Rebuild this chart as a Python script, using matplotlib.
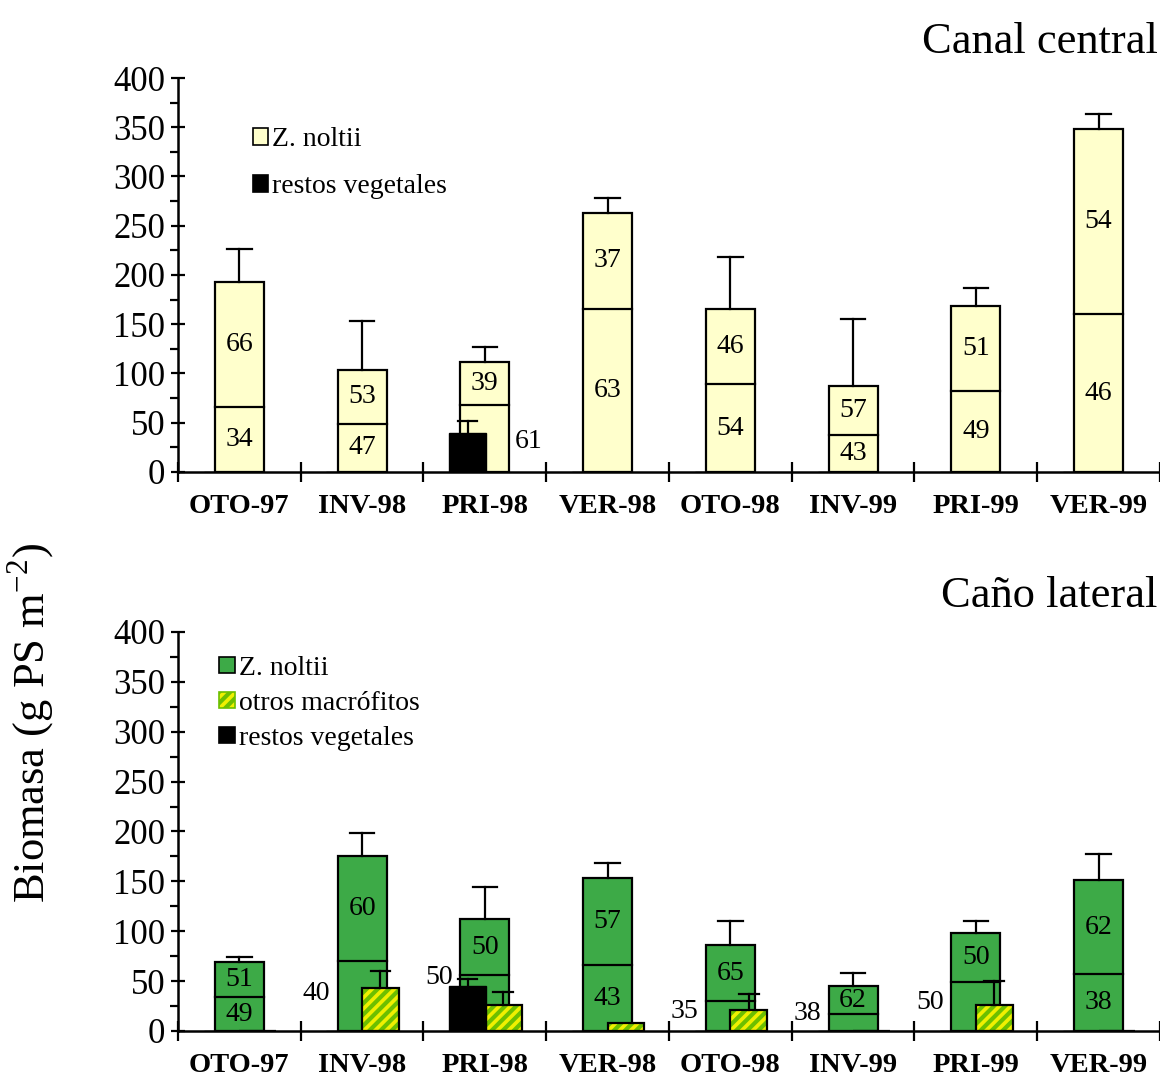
import matplotlib.pyplot as plt
import numpy as np

plt.rcParams['font.family'] = ['Liberation Serif', 'DejaVu Serif']
plt.rcParams['mathtext.fontset'] = 'custom'
plt.rcParams['mathtext.rm'] = 'Liberation Serif'
plt.rcParams['hatch.linewidth'] = 3.0

SEASONS = ["OTO-97", "INV-98", "PRI-98", "VER-98", "OTO-98", "INV-99", "PRI-99", "VER-99"]

# Canal central
CC_TOTAL = [193, 104, 112, 263, 165, 87, 168, 348]
CC_ERR = [33, 49, 15, 15, 53, 68, 19, 15]
CC_PCT_LOW = [34, 47, 61, 63, 54, 43, 49, 46]
CC_RESTOS = [0, 0, 40, 0, 0, 0, 0, 0]
CC_RESTOS_ERR = [0, 0, 12, 0, 0, 0, 0, 0]

# Caño lateral
CL_TOTAL = [69, 175, 112, 153, 86, 45, 98, 151]
CL_ERR = [5, 23, 32, 15, 24, 13, 12, 26]
CL_PCT_LOW = [49, 40, 50, 43, 35, 38, 50, 38]
CL_OTROS = [0, 43, 26, 8, 21, 0, 26, 0]
CL_OTROS_ERR = [0, 17, 13, 0, 16, 0, 24, 0]
CL_RESTOS = [0, 0, 45, 0, 0, 0, 0, 0]
CL_RESTOS_ERR = [0, 0, 7, 0, 0, 0, 0, 0]

YELLOW = "#FFFFCC"
GREEN = "#3DAA47"
HATCH_BG = "#F0F000"
HATCH_FG = "#6CBF00"

W = 0.40
W_SMALL = 0.30
NUM_FS = 20


def err_up(ax, x, top, err, cap=0.1):
    if err <= 0:
        return
    ax.plot([x, x], [top, top + err], color="black", lw=1.6, zorder=4)
    ax.plot([x - cap, x + cap], [top + err, top + err], color="black", lw=1.6, zorder=4)


def setup_axes(ax, title):
    n = len(SEASONS)
    ax.set_xlim(0, n)
    ax.set_ylim(0, 400)
    for s in ["top", "right"]:
        ax.spines[s].set_visible(False)
    ax.spines["left"].set_linewidth(1.8)
    ax.spines["bottom"].set_linewidth(1.8)
    ax.set_yticks(np.arange(0, 401, 50))
    ax.set_yticks(np.arange(0, 401, 25), minor=True)
    ax.tick_params(axis="y", which="major", direction="inout", length=10, width=1.6,
                   labelsize=25, pad=4)
    ax.tick_params(axis="y", which="minor", direction="out", length=6, width=1.6)
    ax.set_xticks(np.arange(0, n + 1))
    ax.set_xticklabels([])
    ax.set_xticks(np.arange(n) + 0.5, minor=True)
    ax.set_xticklabels(SEASONS, minor=True, fontweight="bold", fontsize=20.5)
    ax.tick_params(axis="x", which="major", direction="inout", length=14, width=1.6)
    ax.tick_params(axis="x", which="minor", length=0, pad=16)
    ax.text(0.9975, 1.04, title, transform=ax.transAxes, ha="right", va="bottom",
            fontsize=32)


fig = plt.figure(figsize=(11.6, 10.79), dpi=100)
ax1 = fig.add_axes([0.1534, 0.5626, 0.8466, 0.3651])
ax2 = fig.add_axes([0.1534, 0.0445, 0.8466, 0.3698])

# ---- top panel
x = np.arange(len(SEASONS)) + 0.5
ax1.bar(x, CC_TOTAL, W, color=YELLOW, edgecolor="black", lw=1.6, zorder=2)
for i in range(len(SEASONS)):
    low = CC_TOTAL[i] * CC_PCT_LOW[i] / 100
    ax1.plot([x[i] - W / 2, x[i] + W / 2], [low, low], color="black", lw=1.6, zorder=3)
    err_up(ax1, x[i], CC_TOTAL[i], CC_ERR[i])
    ax1.text(x[i], (low + CC_TOTAL[i]) / 2, str(100 - CC_PCT_LOW[i]), ha="center",
             va="center", fontsize=NUM_FS, zorder=5)
    if CC_RESTOS[i] > 0:
        ax1.text(x[i] + W / 2 + 0.04, 31, str(CC_PCT_LOW[i]), ha="left", va="center",
                 fontsize=NUM_FS)
    else:
        ax1.text(x[i], low / 2, str(CC_PCT_LOW[i]), ha="center", va="center",
                 fontsize=NUM_FS, zorder=5)
xr = x - 0.14
ax1.bar(xr, CC_RESTOS, W_SMALL, color="black", edgecolor="black", lw=1.0, zorder=3)
for i in range(len(SEASONS)):
    err_up(ax1, xr[i], CC_RESTOS[i], CC_RESTOS_ERR[i], cap=0.08)

setup_axes(ax1, "Canal central")
h1 = plt.Rectangle((0, 0), 1, 1, facecolor=YELLOW, edgecolor="black", lw=1.2)
h2 = plt.Rectangle((0, 0), 1, 1, facecolor="black", edgecolor="black", lw=1.2)
ax1.legend([h1, h2], ["Z. noltii", "restos vegetales"], loc="upper left",
           bbox_to_anchor=(0.062, 0.91), frameon=False, fontsize=20,
           handlelength=0.55, handleheight=0.55, handletextpad=0.15, labelspacing=0.78,
           borderpad=0)

# ---- bottom panel
ax2.bar(x, CL_TOTAL, W, color=GREEN, edgecolor="black", lw=1.6, zorder=2)
OUT_Y = {1: 38, 2: 54, 4: 20, 5: 18, 6: 29}
for i in range(len(SEASONS)):
    low = CL_TOTAL[i] * CL_PCT_LOW[i] / 100
    ax2.plot([x[i] - W / 2, x[i] + W / 2], [low, low], color="black", lw=1.6, zorder=3)
    err_up(ax2, x[i], CL_TOTAL[i], CL_ERR[i])
    ax2.text(x[i], (low + CL_TOTAL[i]) / 2, str(100 - CL_PCT_LOW[i]), ha="center",
             va="center", fontsize=NUM_FS, zorder=5)
    if i in OUT_Y:
        ax2.text(x[i] - W / 2 - 0.06, OUT_Y[i], str(CL_PCT_LOW[i]), ha="right",
                 va="center", fontsize=NUM_FS)
    else:
        ax2.text(x[i], low / 2, str(CL_PCT_LOW[i]), ha="center", va="center",
                 fontsize=NUM_FS, zorder=5)

xo = x + 0.15
ax2.bar(xo, CL_OTROS, W_SMALL, color=HATCH_BG, edgecolor=HATCH_FG, hatch="///",
        lw=0, zorder=3)
ax2.bar(xo, CL_OTROS, W_SMALL, color="none", edgecolor="black", lw=1.6, zorder=3.5)
for i in range(len(SEASONS)):
    if CL_OTROS[i] > 0:
        err_up(ax2, xo[i], CL_OTROS[i], CL_OTROS_ERR[i], cap=0.08)
xr = x - 0.14
ax2.bar(xr, CL_RESTOS, W_SMALL, color="black", edgecolor="black", lw=1.0, zorder=3)
for i in range(len(SEASONS)):
    err_up(ax2, xr[i], CL_RESTOS[i], CL_RESTOS_ERR[i], cap=0.08)

setup_axes(ax2, "Caño lateral")
g1 = plt.Rectangle((0, 0), 1, 1, facecolor=GREEN, edgecolor="black", lw=1.2)
g2 = plt.Rectangle((0, 0), 1, 1, facecolor=HATCH_BG, edgecolor=HATCH_FG, hatch="///",
                   lw=1.2)
g3 = plt.Rectangle((0, 0), 1, 1, facecolor="black", edgecolor="black", lw=1.2)
leg = ax2.legend([g1, g2, g3], ["Z. noltii", "otros macrófitos", "restos vegetales"],
                 loc="upper left", bbox_to_anchor=(0.028, 0.975), frameon=False,
                 fontsize=20, handlelength=0.55, handleheight=0.55, handletextpad=0.15,
                 labelspacing=0.36, borderpad=0)

fig.text(0.027, 0.33, "Biomasa (g PS m$^{\\mathregular{-2}}$)", rotation=90,
         ha="center", va="center", fontsize=32)

fig.savefig("out.png", dpi=100)
